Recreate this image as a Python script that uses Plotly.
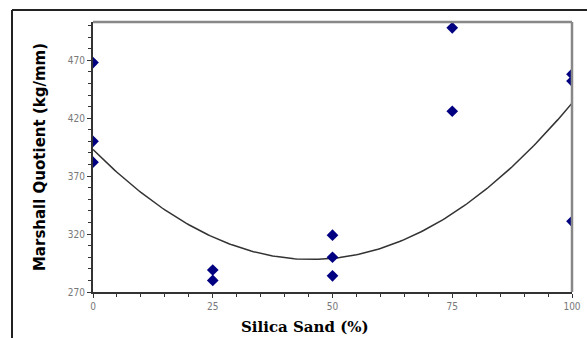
import numpy as np
import plotly.graph_objects as go

silica = [0, 0, 0, 25, 25, 50, 50, 50, 75, 75, 100, 100, 100]
quotient = [468, 400, 382, 289, 280, 319, 300, 284, 498, 426, 458, 452, 331]
x_ticks = [0, 25, 50, 75, 100]
y_ticks = [270, 320, 370, 420, 470]
# quadratic trendline coefficients (a, b, c)
trend_coef = [0.0456, -4.16, 393]

xs = np.linspace(0, 100, 201)
ys = np.polyval(trend_coef, xs)

fig = go.Figure()
fig.add_trace(go.Scatter(x=xs, y=ys, mode="lines",
                         line=dict(color="#333333", width=1.5), hoverinfo="skip"))
fig.add_trace(go.Scatter(x=silica, y=quotient, mode="markers",
                         marker=dict(symbol="diamond", size=9, color="#000080")))

W, H = 587, 338
l, r, t, b = 93, 15, 22, 46
pw, ph = W - l - r, H - t - b

def px(xp):
    return (xp - l) / pw

def py(yp):
    return (H - b - yp) / ph

fig.update_layout(
    width=W, height=H, margin=dict(l=l, r=r, t=t, b=b),
    paper_bgcolor="white", plot_bgcolor="white", showlegend=False,
    xaxis=dict(range=[0, 100], tickvals=x_ticks, ticks="outside", ticklen=4,
               tickcolor="#333", showgrid=False, zeroline=False, automargin=False,
               showline=True, linecolor="#333", linewidth=2,
               tickfont=dict(family="DejaVu Sans Condensed", size=10, color="#777"),
               minor=dict(dtick=5, ticks="outside", ticklen=3, tickcolor="#333")),
    yaxis=dict(range=[270, 503], tickvals=y_ticks, ticks="outside", ticklen=4,
               tickcolor="#333", showgrid=False, zeroline=False, automargin=False,
               showline=True, linecolor="#333", linewidth=2,
               tickfont=dict(family="DejaVu Sans Condensed", size=10, color="#777"),
               minor=dict(dtick=10, ticks="outside", ticklen=3, tickcolor="#333"),
               title=dict(text="<b>Marshall Quotient (kg/mm)</b>", standoff=19,
                          font=dict(family="DejaVu Sans", size=15, color="black"))),
    annotations=[
        dict(text="<b>Silica Sand (%)</b>", xref="paper", yref="paper",
             x=px(305), y=py(327), xanchor="center", yanchor="middle", showarrow=False,
             font=dict(family="DejaVu Serif, serif", size=15, color="black")),
    ],
    shapes=[
        dict(type="line", xref="paper", yref="paper", x0=0, x1=1, y0=1, y1=1,
             line=dict(color="#888", width=2.5)),
        dict(type="line", xref="paper", yref="paper", x0=1, x1=1, y0=0, y1=1,
             line=dict(color="#888", width=2.5)),
        dict(type="line", xref="paper", yref="paper", x0=px(12), x1=px(12), y0=py(340), y1=py(10),
             line=dict(color="#222", width=2)),
        dict(type="line", xref="paper", yref="paper", x0=px(12), x1=px(600), y0=py(10), y1=py(10),
             line=dict(color="#222", width=2)),
    ],
)

fig.write_html("out.html")
